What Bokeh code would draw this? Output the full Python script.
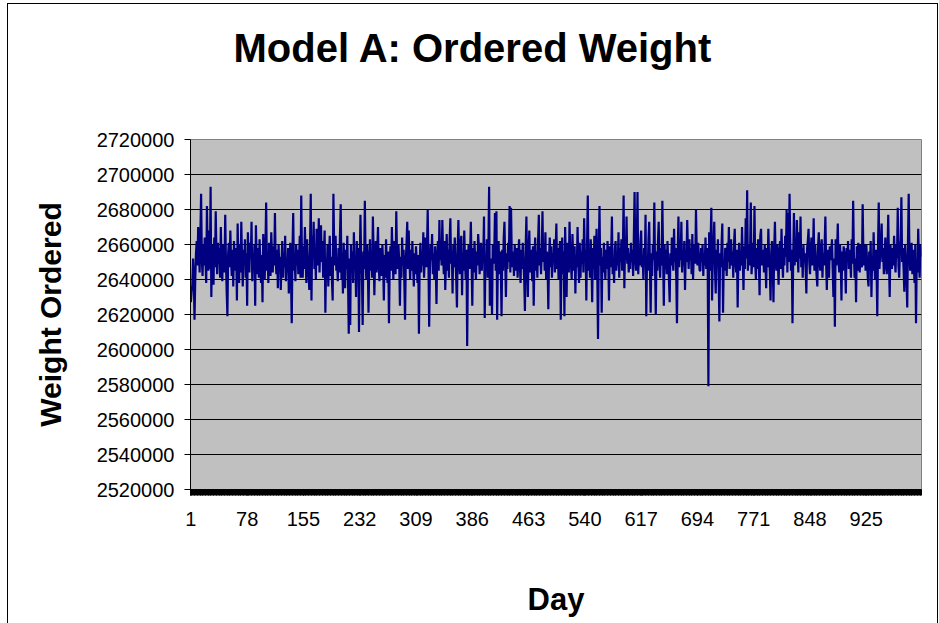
from bokeh.plotting import figure
from bokeh.models import Range1d, FixedTicker, BasicTickFormatter, Title
from bokeh.embed import file_html
from bokeh.resources import INLINE

# ---------------- data ----------------
weight_ordered = [
    2627000, 2633000, 2637000, 2652000, 2641000, 2617000, 2640000, 2655000, 2662000, 2648000, 2670000, 2657000, 2644000, 2666000, 2689000, 2652000, 2642000, 2660000, 2648000, 2664000,
    2651000, 2638000, 2682000, 2655000, 2645000, 2668000, 2646000, 2693000, 2630000, 2660000, 2651000, 2637000, 2664000, 2647000, 2679000, 2655000, 2643000, 2661000, 2649000, 2658000,
    2641000, 2670000, 2648000, 2639000, 2660000, 2652000, 2644000, 2677000, 2650000, 2633000, 2619000, 2655000, 2661000, 2647000, 2668000, 2651000, 2642000, 2657000, 2636000, 2662000,
    2650000, 2645000, 2658000, 2628000, 2672000, 2649000, 2638000, 2660000, 2644000, 2673000, 2652000, 2636000, 2657000, 2648000, 2663000, 2641000, 2655000, 2625000, 2667000, 2650000,
    2644000, 2661000, 2652000, 2673000, 2639000, 2655000, 2647000, 2660000, 2625000, 2671000, 2650000, 2643000, 2658000, 2641000, 2663000, 2649000, 2638000, 2654000, 2627000, 2666000,
    2652000, 2640000, 2658000, 2684000, 2645000, 2655000, 2638000, 2661000, 2650000, 2642000, 2667000, 2653000, 2644000, 2659000, 2648000, 2678000, 2651000, 2643000, 2657000, 2635000,
    2660000, 2646000, 2653000, 2634000, 2649000, 2662000, 2641000, 2655000, 2647000, 2665000, 2639000, 2652000, 2644000, 2658000, 2632000, 2649000, 2661000, 2640000, 2615000, 2656000,
    2678000, 2645000, 2654000, 2639000, 2660000, 2648000, 2657000, 2643000, 2652000, 2665000, 2641000, 2688000, 2650000, 2641000, 2659000, 2646000, 2670000, 2652000, 2638000, 2663000,
    2650000, 2644000, 2634000, 2658000, 2689000, 2628000, 2665000, 2652000, 2673000, 2646000, 2658000, 2640000, 2669000, 2652000, 2648000, 2675000, 2644000, 2660000, 2671000, 2650000,
    2662000, 2641000, 2655000, 2668000, 2621000, 2650000, 2645000, 2660000, 2636000, 2654000, 2665000, 2642000, 2653000, 2639000, 2628000, 2689000, 2660000, 2648000, 2665000, 2645000,
    2651000, 2639000, 2658000, 2644000, 2666000, 2683000, 2640000, 2655000, 2632000, 2661000, 2648000, 2635000, 2657000, 2646000, 2665000, 2640000, 2609000, 2652000, 2614000, 2660000,
    2644000, 2656000, 2638000, 2667000, 2648000, 2653000, 2630000, 2662000, 2645000, 2658000, 2610000, 2649000, 2677000, 2651000, 2643000, 2614000, 2656000, 2646000, 2685000, 2652000,
    2640000, 2660000, 2650000, 2621000, 2648000, 2663000, 2645000, 2656000, 2641000, 2676000, 2655000, 2631000, 2650000, 2662000, 2644000, 2657000, 2670000, 2648000, 2639000, 2658000,
    2651000, 2642000, 2660000, 2649000, 2628000, 2654000, 2641000, 2663000, 2650000, 2638000, 2656000, 2615000, 2647000, 2659000, 2645000, 2670000, 2652000, 2640000, 2662000, 2649000,
    2643000, 2679000, 2655000, 2646000, 2660000, 2650000, 2625000, 2653000, 2641000, 2664000, 2648000, 2657000, 2639000, 2617000, 2651000, 2660000, 2673000, 2646000, 2668000, 2652000,
    2640000, 2657000, 2645000, 2662000, 2648000, 2636000, 2655000, 2643000, 2659000, 2650000, 2638000, 2654000, 2609000, 2649000, 2661000, 2644000, 2656000, 2648000, 2667000, 2641000,
    2653000, 2664000, 2647000, 2658000, 2680000, 2650000, 2613000, 2646000, 2660000, 2651000, 2666000, 2643000, 2655000, 2640000, 2659000, 2648000, 2626000, 2654000, 2662000, 2645000,
    2674000, 2651000, 2660000, 2648000, 2674000, 2655000, 2643000, 2662000, 2634000, 2650000, 2666000, 2645000, 2657000, 2641000, 2663000, 2675000, 2649000, 2656000, 2632000, 2660000,
    2647000, 2664000, 2652000, 2640000, 2624000, 2658000, 2674000, 2650000, 2643000, 2661000, 2665000, 2631000, 2655000, 2645000, 2668000, 2651000, 2640000, 2657000, 2602000, 2649000,
    2660000, 2646000, 2655000, 2673000, 2650000, 2625000, 2658000, 2644000, 2662000, 2651000, 2640000, 2656000, 2648000, 2666000, 2659000, 2643000, 2654000, 2661000, 2645000, 2657000,
    2651000, 2676000, 2618000, 2654000, 2647000, 2663000, 2641000, 2658000, 2693000, 2625000, 2652000, 2640000, 2620000, 2660000, 2649000, 2655000, 2678000, 2645000, 2679000, 2617000,
    2650000, 2662000, 2643000, 2656000, 2648000, 2619000, 2657000, 2645000, 2664000, 2673000, 2651000, 2630000, 2655000, 2646000, 2661000, 2650000, 2682000, 2644000, 2681000, 2653000,
    2647000, 2656000, 2642000, 2660000, 2651000, 2645000, 2658000, 2641000, 2655000, 2663000, 2649000, 2638000, 2657000, 2646000, 2661000, 2650000, 2640000, 2622000, 2658000, 2676000,
    2648000, 2630000, 2655000, 2668000, 2644000, 2657000, 2650000, 2639000, 2659000, 2625000, 2652000, 2664000, 2645000, 2656000, 2641000, 2662000, 2677000, 2648000, 2658000, 2643000,
    2655000, 2679000, 2650000, 2661000, 2645000, 2667000, 2640000, 2656000, 2648000, 2623000, 2653000, 2664000, 2647000, 2659000, 2641000, 2655000, 2650000, 2663000, 2644000, 2657000,
    2672000, 2646000, 2658000, 2640000, 2655000, 2662000, 2617000, 2650000, 2664000, 2643000, 2656000, 2619000, 2670000, 2648000, 2630000, 2661000, 2652000, 2644000, 2673000, 2655000,
    2648000, 2640000, 2666000, 2652000, 2645000, 2659000, 2632000, 2654000, 2647000, 2670000, 2650000, 2638000, 2661000, 2641000, 2656000, 2649000, 2663000, 2644000, 2675000, 2651000,
    2657000, 2628000, 2660000, 2688000, 2645000, 2654000, 2641000, 2663000, 2650000, 2627000, 2658000, 2646000, 2665000, 2640000, 2652000, 2669000, 2643000, 2606000, 2655000, 2682000,
    2648000, 2658000, 2621000, 2653000, 2644000, 2661000, 2650000, 2640000, 2657000, 2646000, 2662000, 2651000, 2628000, 2659000, 2647000, 2655000, 2676000, 2643000, 2652000, 2638000,
    2657000, 2662000, 2645000, 2654000, 2648000, 2667000, 2641000, 2658000, 2650000, 2663000, 2645000, 2656000, 2688000, 2635000, 2660000, 2651000, 2676000, 2649000, 2658000, 2644000,
    2655000, 2646000, 2661000, 2650000, 2657000, 2642000, 2664000, 2690000, 2651000, 2645000, 2659000, 2690000, 2643000, 2656000, 2648000, 2662000, 2668000, 2647000, 2654000, 2640000,
    2658000, 2650000, 2677000, 2619000, 2652000, 2645000, 2663000, 2673000, 2648000, 2621000, 2655000, 2642000, 2660000, 2651000, 2684000, 2647000, 2620000, 2656000, 2645000, 2662000,
    2673000, 2650000, 2641000, 2658000, 2648000, 2685000, 2654000, 2625000, 2660000, 2646000, 2657000, 2643000, 2662000, 2651000, 2640000, 2627000, 2655000, 2648000, 2664000, 2652000,
    2645000, 2669000, 2650000, 2658000, 2641000, 2615000, 2655000, 2676000, 2647000, 2660000, 2651000, 2673000, 2644000, 2657000, 2648000, 2662000, 2634000, 2655000, 2650000, 2674000,
    2656000, 2646000, 2663000, 2651000, 2658000, 2643000, 2666000, 2640000, 2655000, 2660000, 2649000, 2680000, 2657000, 2648000, 2661000, 2652000, 2645000, 2645000, 2658000, 2650000,
    2660000, 2642000, 2655000, 2648000, 2664000, 2646000, 2658000, 2650000, 2579000, 2667000, 2645000, 2662000, 2681000, 2628000, 2654000, 2660000, 2673000, 2646000, 2632000, 2657000,
    2649000, 2663000, 2640000, 2616000, 2655000, 2647000, 2660000, 2672000, 2621000, 2651000, 2645000, 2658000, 2657000, 2642000, 2661000, 2650000, 2670000, 2646000, 2655000, 2663000,
    2648000, 2656000, 2641000, 2660000, 2669000, 2650000, 2644000, 2657000, 2624000, 2652000, 2661000, 2645000, 2655000, 2648000, 2670000, 2651000, 2634000, 2659000, 2646000, 2675000,
    2652000, 2691000, 2645000, 2660000, 2648000, 2656000, 2684000, 2643000, 2652000, 2661000, 2647000, 2682000, 2650000, 2640000, 2658000, 2646000, 2663000, 2651000, 2631000, 2665000,
    2669000, 2648000, 2655000, 2657000, 2644000, 2660000, 2651000, 2635000, 2658000, 2647000, 2669000, 2652000, 2645000, 2628000, 2656000, 2662000, 2649000, 2627000, 2657000, 2673000,
    2651000, 2645000, 2660000, 2650000, 2637000, 2656000, 2662000, 2646000, 2669000, 2652000, 2641000, 2658000, 2648000, 2665000, 2653000, 2680000, 2644000, 2678000, 2650000, 2689000,
    2660000, 2645000, 2657000, 2615000, 2652000, 2678000, 2648000, 2663000, 2650000, 2674000, 2656000, 2644000, 2667000, 2652000, 2676000, 2647000, 2658000, 2641000, 2660000, 2650000,
    2655000, 2646000, 2632000, 2658000, 2662000, 2669000, 2650000, 2643000, 2657000, 2664000, 2648000, 2655000, 2675000, 2645000, 2660000, 2651000, 2642000, 2636000, 2659000, 2667000,
    2650000, 2645000, 2658000, 2663000, 2641000, 2655000, 2648000, 2660000, 2676000, 2650000, 2634000, 2657000, 2645000, 2641000, 2659000, 2651000, 2655000, 2663000, 2646000, 2630000,
    2652000, 2613000, 2663000, 2648000, 2657000, 2672000, 2650000, 2644000, 2660000, 2651000, 2628000, 2656000, 2645000, 2659000, 2655000, 2648000, 2632000, 2658000, 2650000, 2662000,
    2646000, 2657000, 2651000, 2641000, 2663000, 2649000, 2685000, 2655000, 2641000, 2652000, 2627000, 2659000, 2645000, 2661000, 2656000, 2644000, 2660000, 2650000, 2647000, 2683000,
    2655000, 2648000, 2660000, 2645000, 2660000, 2651000, 2641000, 2636000, 2656000, 2649000, 2662000, 2630000, 2653000, 2645000, 2667000, 2650000, 2640000, 2657000, 2648000, 2619000,
    2658000, 2684000, 2646000, 2655000, 2661000, 2672000, 2650000, 2658000, 2643000, 2652000, 2664000, 2648000, 2643000, 2657000, 2677000, 2649000, 2630000, 2660000, 2652000, 2646000,
    2658000, 2648000, 2665000, 2651000, 2644000, 2660000, 2652000, 2681000, 2648000, 2641000, 2657000, 2663000, 2687000, 2650000, 2658000, 2646000, 2633000, 2660000, 2652000, 2640000,
    2624000, 2662000, 2689000, 2655000, 2645000, 2650000, 2661000, 2643000, 2657000, 2648000, 2638000, 2660000, 2615000, 2652000, 2644000, 2669000, 2650000, 2641000, 2660000, 2653000,
]
days = list(range(1, len(weight_ordered) + 1))
x_tick_days = [1, 78, 155, 232, 309, 386, 463, 540, 617, 694, 771, 848, 925]
y_ticks = [2520000, 2540000, 2560000, 2580000, 2600000, 2620000,
           2640000, 2660000, 2680000, 2700000, 2720000]
title_text = "Model A: Ordered Weight"
x_title = "Day"
y_title = "Weight Ordered"

# ---------------- layout (pixels) ----------------
W, H = 931, 620
FL, FR, FT, FB = 182, 913, 135, 485   # frame edges on canvas
X0, X1 = 0.5, len(days) + 0.5
Y0, Y1 = y_ticks[0], y_ticks[-1]

FONT = "Liberation Sans"

p = figure(width=W, height=H, output_backend="svg", toolbar_location=None,
           title=title_text,
           x_range=Range1d(X0, X1), y_range=Range1d(Y0, Y1),
           min_border_left=FL, min_border_right=W - FR,
           min_border_top=FT, min_border_bottom=H - FB,
           background_fill_color="#C0C0C0", border_fill_color="white")
p.styles = {"margin-left": "7px", "margin-top": "3px",
            "border-left": "1px solid #000000",
            "border-top": "1px solid #000000",
            "border-right": "1px solid #000000"}
p.outline_line_color = "#808080"
p.outline_line_width = 1

# spacer between frame and title (title is the outermost panel item)
p.add_layout(Title(text=" ", text_font_size="1px", standoff=67), "above")

p.title.align = "left"
p.title.offset = 43
p.title.standoff = 0
p.title.text_font = FONT
p.title.text_font_size = "40px"
p.title.text_font_style = "bold"
p.title.text_color = "black"

p.line(days, weight_ordered, line_color="#000080", line_width=2.2)

# x axis
boundaries = [d - 0.5 for d in days] + [days[-1] + 0.5]
xa = p.xaxis[0]
xa.ticker = FixedTicker(ticks=x_tick_days, minor_ticks=boundaries)
xa.major_tick_out = 6
xa.major_tick_in = 0
xa.minor_tick_out = 6
xa.minor_tick_in = 0
xa.major_tick_line_color = "black"
xa.minor_tick_line_color = "black"
xa.axis_line_color = "black"
xa.major_label_text_font = FONT
xa.major_label_text_font_size = "20px"
xa.major_label_text_color = "black"
xa.major_label_standoff = 16
xa.axis_label = x_title
xa.axis_label_text_font = FONT
xa.axis_label_text_font_size = "31px"
xa.axis_label_text_font_style = "bold"
xa.axis_label_text_color = "black"
xa.axis_label_standoff = 53

# y axis
ya = p.yaxis[0]
ya.ticker = FixedTicker(ticks=y_ticks)
ya.formatter = BasicTickFormatter(use_scientific=False)
ya.major_tick_out = 6
ya.major_tick_in = 0
ya.minor_tick_line_color = None
ya.major_tick_line_color = "black"
ya.axis_line_color = "black"
ya.major_label_text_font = FONT
ya.major_label_text_font_size = "20px"
ya.major_label_text_color = "black"
ya.major_label_standoff = 10
ya.axis_label = y_title
ya.axis_label_text_font = FONT
ya.axis_label_text_font_size = "30px"
ya.axis_label_text_font_style = "bold"
ya.axis_label_text_color = "black"
ya.axis_label_standoff = 27

p.xgrid.grid_line_color = None
p.ygrid.ticker = FixedTicker(ticks=y_ticks[1:-1])
p.ygrid.grid_line_color = "black"
p.ygrid.grid_line_width = 1

open("out.html", "w").write(file_html(p, INLINE))
